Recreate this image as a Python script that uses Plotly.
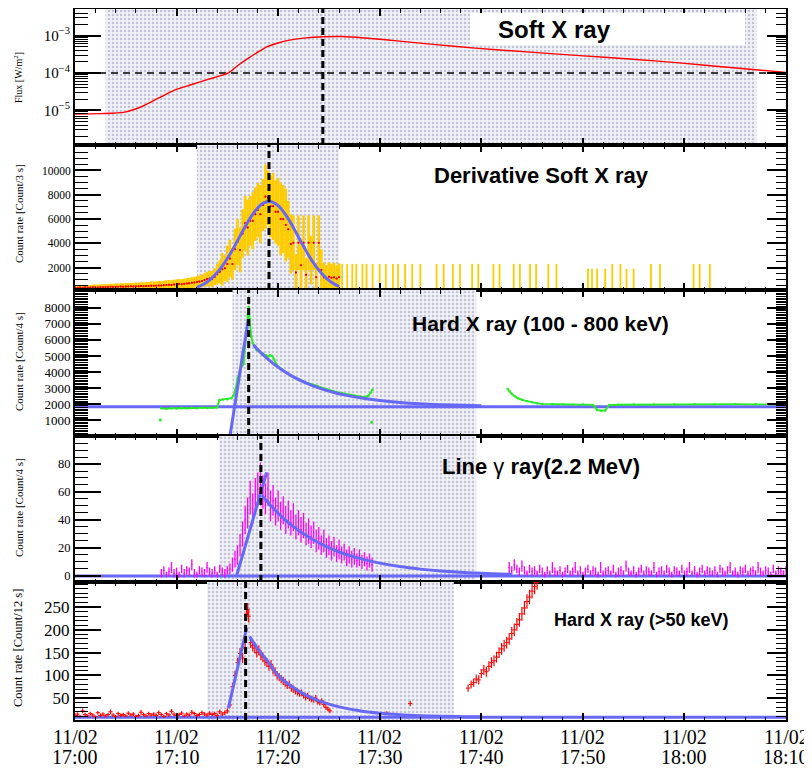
import plotly.graph_objects as go
from plotly.subplots import make_subplots

# ---------------- data (time = minutes after 11/02 17:00) ----------------
X_TICK_MIN = [0, 10, 20, 30, 40, 50, 60, 70]
X_TICK_DATE = ["11/02", "11/02", "11/02", "11/02", "11/02", "11/02", "11/02", "11/02"]
X_TICK_TIME = ["17:00", "17:10", "17:20", "17:30", "17:40", "17:50", "18:00", "18:10"]

# Panel 1 : soft X-ray flux
SXR_T = [0, 2.5, 4.9, 6.6, 8.2, 9.85, 11.5, 13.1, 15.1, 16.0, 17.0, 18.0, 19.0, 20.0, 21.0,
         22.5, 24.6, 26.3, 28.5, 31.2, 35.0, 39.4, 44.8, 49.7, 54.6, 59.5, 64.5, 70.0]
SXR_FLUX = [7.9e-6, 8.1e-6, 8.9e-6, 1.26e-5, 2.1e-5, 3.5e-5, 4.9e-5, 6.7e-5, 1.0e-4, 1.55e-4,
            2.4e-4, 3.6e-4, 5.1e-4, 6.3e-4, 7.4e-4, 8.5e-4, 9.3e-4, 9.4e-4, 8.6e-4, 7.4e-4,
            5.9e-4, 4.6e-4, 3.6e-4, 2.9e-4, 2.35e-4, 1.85e-4, 1.4e-4, 1.03e-4]
SXR_LEVEL = 1e-4

# Panel 2 : derivative of soft X-ray (0.25 min bins from 0 to 26 min)
DSXR_T0, DSXR_STEP = 0.0, 0.25
DSXR_RATE = [350, 330, 360, 340, 370, 350, 360, 380, 370, 360, 390, 380, 400, 390, 410, 400,
             420, 410, 430, 420, 440, 430, 450, 440, 460, 450, 470, 460, 480, 470, 500, 490,
             510, 530, 520, 550, 560, 580, 570, 600, 620, 640, 630, 660, 690, 710, 740, 770,
             800, 850, 900, 980, 1050, 1100, 1050, 1250, 1450, 1650, 1850, 1950, 2300, 2750,
             2300, 3500, 4100, 3450, 4800, 5650, 5300, 5850, 5850, 6400, 6750, 6400, 7150, 7850,
             7750, 7050, 7050, 6600, 6600, 6000, 6000, 5500, 5150, 3950, 4050, 1600, 4050, 2200,
             4050, 1400, 4050, 2600, 4050, 1200, 4050, 1800, 1200, 1100, 1250, 1150, 1200, 1100,
             1200]
DSXR_ERR = [190, 200, 190, 210, 200, 210, 220, 210, 230, 240, 230, 240, 250, 250, 260, 260,
            270, 270, 280, 290, 280, 300, 290, 300, 310, 300, 320, 320, 330, 340, 360, 350,
            350, 360, 350, 370, 380, 390, 380, 400, 410, 420, 410, 430, 440, 450, 460, 470,
            480, 500, 520, 560, 600, 640, 670, 700, 850, 950, 1350, 1050, 1500, 1550,
            1300, 1700, 1900, 1850, 2000, 2250, 2300, 2050, 2350, 2200, 2250, 2400, 2150, 2650,
            2250, 2550, 2750, 2600, 2800, 3000, 2800, 3000, 2350, 2450, 2250, 1500, 2250, 1900,
            2250, 1400, 2250, 2000, 2250, 1200, 2250, 1700, 1200, 1100, 1200, 1150, 1200, 1100,
            1150]
DSXR_SPARSE_T = [26.3, 26.8, 27.3, 27.7, 28.3, 28.7, 29.3, 30.0, 30.6, 31.3, 31.8, 32.5, 33.2,
                 34.0, 35.6, 36.3, 37.2, 37.9, 39.1, 39.7, 41.2, 41.8, 43.2, 43.8, 44.8, 45.4,
                 46.6, 47.4, 50.5, 50.9, 51.4, 52.2, 52.9, 53.7, 54.3, 55.0, 56.7, 57.6, 60.9,
                 61.5, 62.5]
DSXR_SPARSE_RATE = [1150, 1150, 1150, 1150, 1150, 1150, 1150, 1150, 1150, 1150, 1150, 1150, 1150,
                    1150, 1150, 1150, 1150, 1150, 1150, 1150, 1150, 1150, 1150, 1150, 1150, 1150,
                    1150, 1150, 950, 950, 950, 950, 1150, 1150, 950, 950, 1150, 1150, 1150,
                    1150, 1150]
DSXR_SPARSE_ERR = DSXR_SPARSE_RATE
DSXR_FIT_T = [12.0, 12.5, 13.0, 13.5, 14.0, 14.5, 15.0, 15.5, 16.0, 16.5, 17.0, 17.5, 18.0, 18.5,
              19.1, 19.5, 20.0, 20.5, 21.0, 21.5, 22.0, 22.5, 23.0, 23.5, 24.0, 24.5, 25.0, 25.5,
              26.0]
DSXR_FIT = [371, 559, 816, 1155, 1588, 2117, 2742, 3449, 4208, 4984, 5731, 6398, 6935, 7292,
            7450, 7379, 7100, 6631, 6011, 5290, 4519, 3747, 3017, 2357, 1788, 1316, 940, 653, 439]

# Panel 3 : hard X-ray 100-800 keV
HXR_T = [8.4, 8.5, 9.0, 9.5, 10.0, 10.5, 11.0, 11.5, 12.0, 12.5, 13.0, 13.5, 14.0, 14.2, 14.6,
         15.0, 15.4, 15.6, 15.8, 16.0, 16.3, 16.6, 16.8, 17.0, 17.1, 17.2, 17.35, 17.5, 17.7,
         17.9, 18.2, 18.5, 18.8, 19.0, 19.2, 19.4, 19.6, 19.8, 20.0, 20.3, 20.6, 20.9, 21.2,
         21.5, 21.8, 22.1, 22.4, 22.7, 23.0, 23.3, 23.6, 23.9, 24.2, 24.5, 24.8, 25.1, 25.4,
         25.7, 26.0, 26.3, 26.6, 26.9, 27.2, 27.5, 27.8, 28.1, 28.4, 28.7, 28.9, 29.1, 29.3]
HXR_RATE = [None, 1750, 1720, 1760, 1740, 1770, 1750, 1780, 1760, 1790, 1770, 1780, 1800, 2250,
            2300, 2320, 2380, 2550, 2900, 3600, 4200, 4500, 6000, 7600, 8050, 7300, 6200, 5800,
            5600, 5350, 5250, 5150, 5050, 4950, 5050, 5000, 4800, 4500, 4350, 4200, 4050, 3950,
            3800, 3700, 3600, 3550, 3450, 3350, 3300, 3250, 3180, 3120, 3050, 2980, 2920, 2870,
            2820, 2760, 2720, 2680, 2640, 2600, 2570, 2540, 2500, 2480, 2460, 2470, 2550, 2700,
            2900]
HXR_DOTS_T = [8.4, 29.2]
HXR_DOTS = [1017, 880]
HXR2_T = [42.6, 42.8, 43.0, 43.3, 43.6, 44.0, 44.5, 45.0, 45.5, 46.0, 47.0, 48.0, 49.0, 50.0,
          51.0, 51.4, 51.8, 52.2, 52.6, 53.5, 55.0, 57.0, 59.0, 61.0, 63.0, 65.0, 67.0, 69.0, 70.0]
HXR2_RATE = [2950, 2800, 2650, 2500, 2380, 2280, 2200, 2120, 2060, 2020, 2000, 1990, 1970, 1980,
             1960, 1650, 1600, 1620, 1950, 1970, 1980, 1990, 1980, 2000, 1990, 2010, 2000, 1990,
             2000]
HXR_BASE = 1850
HXR_RISE_T = [15.25, 17.06]
HXR_RISE = [0, 7280]
HXR_DECAY_T = [17.56, 18.5, 19.5, 20.5, 21.5, 22.5, 23.5, 24.5, 25.5, 26.5, 27.5, 28.5, 30.0,
               32.0, 34.0, 36.0, 38.0, 40.0]
HXR_DECAY = [5700, 5084, 4539, 4085, 3706, 3393, 3132, 2915, 2735, 2585, 2461, 2358, 2235,
             2116, 2033, 1977, 1937, 1910]

# Panel 4 : 2.2 MeV line gamma ray (0.25 min bins)
GAM1_T0, GAM2_T0, GAM_STEP = 8.5, 42.75, 0.25
GAM1 = [2, 4, 1, 3, 6, 2, 3, 1, 5, 2, 4, 3, 8, 2, 1, 4, 3, 2, 6, 3, 2, 4, 1, 5, 3, 2,
        4, 5, 8, 12, 15, 22, 30, 40, 45, 56, 48, 58, 62, 68, 60, 55, 62, 50, 54, 46, 50, 43,
        47, 40, 44, 38, 42, 35, 38, 33, 36, 30, 32, 28, 31, 25, 27, 22, 25, 20, 22, 18, 21,
        16, 19, 15, 17, 13, 15, 12, 14, 11, 13, 10, 12, 9, 11, 8]
GAM1_ERR = [3, 3, 2, 3, 4, 3, 3, 2, 3, 3, 3, 3, 4, 3, 2, 3, 3, 3, 4, 3, 3, 3, 2, 3, 3, 3,
            3, 4, 5, 6, 7, 8, 9, 10, 11, 12, 11, 12, 12, 13, 12, 11, 12, 11, 11, 10, 11, 10,
            10, 10, 10, 9, 10, 9, 9, 9, 9, 8, 9, 8, 8, 8, 8, 7, 8, 7, 7, 7, 7, 6, 7, 6, 6, 6,
            6, 6, 6, 5, 6, 5, 5, 5, 5, 5]
GAM2 = [6, 4, 8, 5, 3, 7, 4, 2, 5, 3, 4, 2, 5, 3, 1, 4, 2, 6, 3, 2, 4, 1, 3, 5, 2, 3, 6, 2,
        4, 1, 3, 5, 2, 4, 3, 1, 6, 2, 3, 4, 2, 5, 1, 3, 4, 2, 7, 3, 2, 4, 1, 3, 5, 2, 4, 3,
        2, 6, 1, 3, 4, 2, 5, 3, 1, 4, 3, 2, 5, 2, 3, 6, 2, 4, 1, 3, 5, 2, 4, 3, 2, 4, 1, 5,
        3, 2, 4, 6, 2, 3, 1, 4, 3, 5, 2, 3, 4, 2, 6, 3, 2, 4, 3, 1, 5, 2, 4, 3, 2, 4]
GAM2_ERR = [4, 3, 4, 3, 3, 4, 3, 2, 3, 3, 3, 2, 3, 3, 2, 3, 2, 4, 3, 2, 3, 2, 3, 3, 2, 3, 4, 2,
            3, 2, 3, 3, 2, 3, 3, 2, 4, 2, 3, 3, 2, 3, 2, 3, 3, 2, 4, 3, 2, 3, 2, 3, 3, 2, 3, 3,
            2, 4, 2, 3, 3, 2, 3, 3, 2, 3, 3, 2, 3, 2, 3, 4, 2, 3, 2, 3, 3, 2, 3, 3, 2, 3, 2, 3,
            3, 2, 3, 4, 2, 3, 2, 3, 3, 3, 2, 3, 3, 2, 4, 3, 2, 3, 3, 2, 3, 2, 3, 3, 2, 3]
GAM_BASE = 0
GAM_RISE_T = [15.9, 18.87]
GAM_RISE = [0, 74]
GAM_DECAY_T = [18.4, 19.5, 20.5, 21.5, 22.5, 23.5, 24.5, 25.5, 26.5, 28.0, 30.0, 32.0, 34.0,
               36.0, 38.0, 40.0, 43.0]
GAM_DECAY = [57.7, 48.5, 41.4, 35.3, 30.1, 25.7, 21.9, 18.7, 15.9, 12.6, 9.2, 6.7, 4.9, 3.5,
             2.6, 1.9, 1.2]

# Panel 5 : hard X-ray > 50 keV
H50_PRE_T0, H50_STEP = 0.0, 0.25
H50_PRE = [12, 15, 10, 22, 14, 11, 16, 13, 9, 18, 12, 15, 11, 14, 20, 13, 10, 16, 12, 14,
           11, 17, 13, 15, 10, 12, 19, 14, 11, 16, 13, 15, 12, 18, 14, 10, 16, 13, 21, 15,
           12, 14, 17, 11, 15, 13, 19, 16, 12, 14, 18, 15, 13, 17, 14, 16, 12, 20, 15, 18]
H50_PRE_ERR = [4, 4, 3, 5, 4, 3, 4, 4, 3, 4, 4, 4, 3, 4, 5, 4, 3, 4, 4, 4,
               3, 4, 4, 4, 3, 4, 5, 4, 3, 4, 4, 4, 4, 5, 4, 3, 4, 4, 5, 4,
               4, 4, 4, 3, 4, 4, 5, 4, 4, 4, 5, 4, 4, 4, 4, 4, 4, 5, 4, 5]
H50_T = [15.0, 15.25, 15.5, 15.75, 16.0, 16.25, 16.5, 16.75, 16.9, 17.0, 17.1, 17.3, 17.5, 17.7,
         17.9, 18.1, 18.3, 18.5, 18.7, 18.9, 19.1, 19.3, 19.5, 19.7, 19.9, 20.1, 20.3, 20.5,
         20.7, 20.9, 21.1, 21.3, 21.5, 21.7, 21.9, 22.1, 22.3, 22.5, 22.7, 22.9, 23.1, 23.3,
         23.5, 23.7, 23.9, 24.1, 24.3, 24.5, 24.7, 24.9, 25.1, 30.7, 33.0]
H50 = [22, 35, 75, 100, 128, 148, 138, 160, 235, 245, 230, 172, 165, 160, 150, 155, 145, 140,
       132, 128, 120, 124, 112, 108, 100, 96, 92, 88, 84, 78, 80, 72, 70, 66, 64, 60, 62, 56,
       52, 55, 50, 48, 46, 50, 42, 40, 44, 36, 30, 26, 22, 17, 38]
H50_ERR = [6, 7, 9, 10, 11, 12, 11, 12, 14, 14, 14, 12, 12, 12, 11, 11, 11, 11, 11, 10, 10,
           10, 10, 10, 9, 9, 9, 9, 9, 8, 8, 8, 8, 8, 8, 7, 7, 7, 7, 7, 7, 7, 6, 7, 6, 6, 6, 6,
           5, 5, 5, 4, 6]
H50_POST_T = [38.7, 39.0, 39.25, 39.5, 39.75, 40.0, 40.25, 40.5, 40.75, 41.0, 41.25, 41.5,
              41.75, 42.0, 42.25, 42.5, 42.75, 43.0, 43.25, 43.5, 43.75, 44.0, 44.25, 44.5,
              44.75, 45.0, 45.25, 45.5]
H50_POST = [72, 80, 84, 92, 90, 104, 112, 108, 120, 128, 132, 140, 150, 158, 165, 172, 180,
            192, 200, 212, 222, 235, 248, 262, 272, 285, 295, 305]
H50_POST_ERR = [8, 9, 9, 10, 10, 10, 11, 11, 11, 12, 12, 12, 12, 13, 13, 13, 13, 14, 14, 14,
                15, 15, 15, 16, 16, 16, 17, 17]
H50_BASE = 8
H50_RISE_T = [15.1, 16.9]
H50_RISE = [28, 204]
H50_DECAY_T = [17.2, 18.0, 19.0, 20.0, 21.0, 22.0, 23.0, 24.0, 25.0, 26.0, 28.0, 30.0, 32.0,
               34.0, 36.0, 38.0, 40.0]
H50_DECAY = [185, 158, 130, 100, 81, 66, 54, 44.4, 36.9, 30.9, 22.4, 17, 13.7, 11.6, 10.2, 9.4,
             8.9]

# per-panel annotations
PEAK_T = [24.4, 19.1, 17.1, 18.3, 16.8]
SHADE_START = [3.0, 12.0, 15.5, 14.2, 13.0]
SHADE_END = [67.1, 26.0, 39.5, 39.5, 37.3]
TITLES = ["<b>Soft X ray</b>", "<b>Derivative Soft X ray</b>", "<b>Hard X ray (100 - 800 keV)</b>",
          "<b>Line </b>γ<b> ray(2.2 MeV)</b>", "<b>Hard X ray (&gt;50 keV)</b>"]
YTITLES = ["Flux [W/m<sup>2</sup>]", "Count rate [Count/3 s]", "Count rate [Count/4 s]",
           "Count rate [Count/4 s]", "Count rate [Count/12 s]"]
P2_TICKS = [2000, 4000, 6000, 8000, 10000]
P3_TICKS = [1000, 2000, 3000, 4000, 5000, 6000, 7000, 8000]
P4_TICKS = [0, 20, 40, 60, 80]
P5_TICKS = [50, 100, 150, 200, 250]

# ---------------- styling / layout ----------------
# page coordinates of the reference; the page body adds an 8 px offset to the figure
OFF = 8
PAGE_W, PAGE_H = 812, 769
W, H = PAGE_W - OFF, PAGE_H - OFF
L, R, T, B = 75, 786, 9, 720          # plot area in page pixels
PANEL_PX = [(9, 145), (145, 290), (290, 436), (436, 582), (582, 720)]
YRANGES = [[-5.93, -2.29], [150, 12100], [30, 9100], [-4.3, 100], [2, 305]]
YTICK_SIZE = [15, 11.5, 13, 12.5, 17]
BLUE = "rgb(104,104,246)"
GREEN = "rgb(40,235,40)"
SERIF = "Liberation Serif"
SANS = "Liberation Sans"


def bins(t0, step, n):
    return [t0 + i * step for i in range(n)]


def px_x(p):
    return (p - L) / (R - L)


def px_y(p):
    return (B - p) / (B - T)


fig = make_subplots(rows=5, cols=1, shared_xaxes=True, vertical_spacing=0)

# shading (dotted pattern)
for i in range(5):
    lo, hi = YRANGES[i]
    if i == 0:
        lo, hi = 10 ** lo, 10 ** hi
    a, b = SHADE_START[i], SHADE_END[i]
    fig.add_trace(go.Scatter(x=[a, b, b, a, a], y=[lo, lo, hi, hi, lo], fill="toself", mode="none",
                             fillcolor="rgb(238,238,246)",
                             fillpattern=dict(shape=".", fgcolor="rgb(150,150,180)",
                                              bgcolor="rgb(240,240,247)", size=4, solidity=0.3),
                             hoverinfo="skip", showlegend=False), row=i + 1, col=1)

# Panel 1
fig.add_trace(go.Scatter(x=[0, 70], y=[SXR_LEVEL, SXR_LEVEL], mode="lines",
                         line=dict(color="black", width=1.5, dash="7px,5px"), showlegend=False), row=1, col=1)
fig.add_trace(go.Scatter(x=SXR_T, y=SXR_FLUX, mode="lines",
                         line=dict(color="red", width=1.4, shape="spline", smoothing=0.8),
                         showlegend=False), row=1, col=1)

# Panel 2
t2 = bins(DSXR_T0, DSXR_STEP, len(DSXR_RATE))
fig.add_trace(go.Scatter(x=t2, y=DSXR_RATE, mode="markers", marker=dict(color="red", size=2),
                         error_y=dict(type="data", array=DSXR_ERR, color="rgb(255,204,0)", thickness=2.6, width=0),
                         showlegend=False), row=2, col=1)
fig.add_trace(go.Scatter(x=DSXR_SPARSE_T, y=DSXR_SPARSE_RATE, mode="markers",
                         marker=dict(color="rgba(0,0,0,0)", size=1),
                         error_y=dict(type="data", array=DSXR_SPARSE_ERR, color="rgb(255,204,0)", thickness=1.8,
                                      width=0),
                         showlegend=False), row=2, col=1)
fig.add_trace(go.Scatter(x=t2, y=DSXR_RATE, mode="markers", marker=dict(color="red", size=2),
                         showlegend=False), row=2, col=1)
fig.add_trace(go.Scatter(x=DSXR_FIT_T, y=DSXR_FIT, mode="lines", line=dict(color=BLUE, width=3, shape="spline"),
                         showlegend=False), row=2, col=1)

# Panel 3
fig.add_trace(go.Scatter(x=[0, 70], y=[HXR_BASE, HXR_BASE], mode="lines", line=dict(color=BLUE, width=3),
                         showlegend=False), row=3, col=1)
for tt, vv in [(HXR_T, HXR_RATE), (HXR2_T, HXR2_RATE)]:
    fig.add_trace(go.Scatter(x=tt, y=vv, mode="lines+markers", line=dict(color=GREEN, width=1.8),
                             marker=dict(size=2.5, color=GREEN), showlegend=False), row=3, col=1)
fig.add_trace(go.Scatter(x=HXR_DOTS_T, y=HXR_DOTS, mode="markers", marker=dict(size=3, color=GREEN),
                         showlegend=False), row=3, col=1)
fig.add_trace(go.Scatter(x=HXR_RISE_T, y=HXR_RISE, mode="lines", line=dict(color=BLUE, width=3),
                         showlegend=False), row=3, col=1)
fig.add_trace(go.Scatter(x=HXR_DECAY_T, y=HXR_DECAY, mode="lines", line=dict(color=BLUE, width=3, shape="spline"),
                         showlegend=False), row=3, col=1)

# Panel 4
fig.add_trace(go.Scatter(x=[0, 70], y=[GAM_BASE, GAM_BASE], mode="lines", line=dict(color=BLUE, width=3),
                         showlegend=False), row=4, col=1)
for t0, vals, errs in [(GAM1_T0, GAM1, GAM1_ERR), (GAM2_T0, GAM2, GAM2_ERR)]:
    fig.add_trace(go.Scatter(x=bins(t0, GAM_STEP, len(vals)), y=vals, mode="markers",
                             marker=dict(color="magenta", size=1.5),
                             error_y=dict(type="data", array=errs, color="magenta", thickness=1.3, width=0),
                             showlegend=False), row=4, col=1)
fig.add_trace(go.Scatter(x=GAM_RISE_T, y=GAM_RISE, mode="lines", line=dict(color=BLUE, width=3),
                         showlegend=False), row=4, col=1)
fig.add_trace(go.Scatter(x=GAM_DECAY_T, y=GAM_DECAY, mode="lines", line=dict(color=BLUE, width=3, shape="spline"),
                         showlegend=False), row=4, col=1)

# Panel 5
fig.add_trace(go.Scatter(x=[0, 70], y=[H50_BASE, H50_BASE], mode="lines", line=dict(color=BLUE, width=3),
                         showlegend=False), row=5, col=1)
for tt, vals, errs in [(bins(H50_PRE_T0, H50_STEP, len(H50_PRE)), H50_PRE, H50_PRE_ERR),
                       (H50_T, H50, H50_ERR), (H50_POST_T, H50_POST, H50_POST_ERR)]:
    fig.add_trace(go.Scatter(x=tt, y=vals, mode="markers",
                             marker=dict(color="red", size=3, symbol="line-ew-open", line=dict(color="red", width=1)),
                             error_y=dict(type="data", array=errs, color="red", thickness=1.2, width=0),
                             showlegend=False), row=5, col=1)
fig.add_trace(go.Scatter(x=H50_RISE_T, y=H50_RISE, mode="lines", line=dict(color=BLUE, width=3),
                         showlegend=False), row=5, col=1)
fig.add_trace(go.Scatter(x=H50_DECAY_T, y=H50_DECAY, mode="lines", line=dict(color=BLUE, width=3, shape="spline"),
                         showlegend=False), row=5, col=1)

# axes
YTICKS = [None, P2_TICKS, P3_TICKS, P4_TICKS, P5_TICKS]
YMINOR = [None, 500, 100, 5, 10]
for i in range(5):
    top, bot = PANEL_PX[i]
    n = "" if i == 0 else str(i + 1)
    fig.layout[f"xaxis{n}"].update(
        domain=[0, 1], range=[0, 70], automargin=False, showline=True, linewidth=2, linecolor="black",
        mirror="ticks", ticks="inside", ticklen=7, tickwidth=1.5, tickcolor="black",
        tickmode="array", tickvals=X_TICK_MIN, showgrid=False, zeroline=False, showticklabels=False,
        minor=dict(ticks="inside", ticklen=3.5, tickwidth=1, tickcolor="black", tickmode="linear", tick0=0, dtick=2))
    ydom = [px_y(bot), px_y(top)]
    common = dict(domain=ydom, range=YRANGES[i], automargin=False, showline=True, linewidth=2, linecolor="black",
                  ticks="inside", tickwidth=1.5, tickcolor="black", showgrid=False, zeroline=False)
    if i == 0:
        common.update(type="log", tickmode="array", tickvals=[1e-5, 1e-4, 1e-3])
        minor = dict(tickvals=[m * 10.0 ** e for e in range(-6, -2) for m in range(2, 10)])
    else:
        common.update(tickmode="array", tickvals=YTICKS[i])
        minor = dict(tickmode="linear", tick0=0, dtick=YMINOR[i])
    left = dict(common, ticklen=26, mirror=False,
                tickfont=dict(family=SERIF, size=YTICK_SIZE[i], color="black"),
                minor=dict(minor, ticks="inside", ticklen=13, tickwidth=1, tickcolor="black"))
    if i == 0:
        left["ticktext"] = ["10<sup>−5</sup>", "10<sup>−4</sup>", "10<sup>−3</sup>"]
    else:
        left["ticktext"] = [str(v) for v in YTICKS[i]]
    fig.layout[f"yaxis{n}"].update(**left)

    # right-hand frame with shorter ticks (ROOT style)
    k = 6 + i
    right = dict(common, ticklen=19, side="right", overlaying=f"y{n}", anchor=f"x{n}", showticklabels=False,
                 minor=dict(minor, ticks="inside", ticklen=10, tickwidth=1, tickcolor="black"))
    fig.layout[f"yaxis{k}"] = right
    fig.add_trace(go.Scatter(x=[None], y=[None], xaxis=f"x{n}", yaxis=f"y{k}", mode="markers",
                             showlegend=False, hoverinfo="skip"))

    # peak marker
    fig.add_shape(type="line", xref=f"x{n}", yref=f"y{n} domain", x0=PEAK_T[i], x1=PEAK_T[i], y0=0, y1=1,
                  line=dict(color="black", width=3, dash="7px,4px"), layer="above")

# x tick labels (two lines, ROOT-like tight spacing)
for tv, d, tm in zip(X_TICK_MIN, X_TICK_DATE, X_TICK_TIME):
    for txt, py in [(d, 736.5), (tm, 756.5)]:
        fig.add_annotation(text=txt, xref="x5", yref="paper", x=tv, y=px_y(py), showarrow=False,
                           font=dict(family=SERIF, size=20, color="black"), xanchor="center", yanchor="middle")

# title box for panel 1
fig.add_shape(type="rect", xref="paper", yref="paper", x0=px_x(470), x1=px_x(745), y0=px_y(45), y1=px_y(13),
              fillcolor="white", line=dict(width=0), layer="above")

TITLE_POS = [(554, 30, 24), (541, 175, 22), (540, 323, 21), (541, 466, 22), (641, 620, 18)]
for txt, (cx, cy, sz) in zip(TITLES, TITLE_POS):
    fig.add_annotation(text=txt, xref="paper", yref="paper", x=px_x(cx), y=px_y(cy), showarrow=False,
                       font=dict(family=SANS, size=sz, color="black"), xanchor="center", yanchor="middle")

YT_POS = [(18, 77, 10), (19, 214, 11), (19, 362, 11), (19, 508, 11), (18, 648, 12.5)]
for txt, (cx, cy, sz) in zip(YTITLES, YT_POS):
    fig.add_annotation(text=txt, xref="paper", yref="paper", x=px_x(cx), y=px_y(cy), showarrow=False,
                       textangle=-90, font=dict(family=SERIF, size=sz, color="black"),
                       xanchor="center", yanchor="middle")

fig.update_layout(width=W, height=H,
                  margin=dict(l=L - OFF, r=PAGE_W - R, t=T - OFF, b=PAGE_H - B, autoexpand=False),
                  paper_bgcolor="white", plot_bgcolor="white", showlegend=False)

fig.write_html("out.html")
